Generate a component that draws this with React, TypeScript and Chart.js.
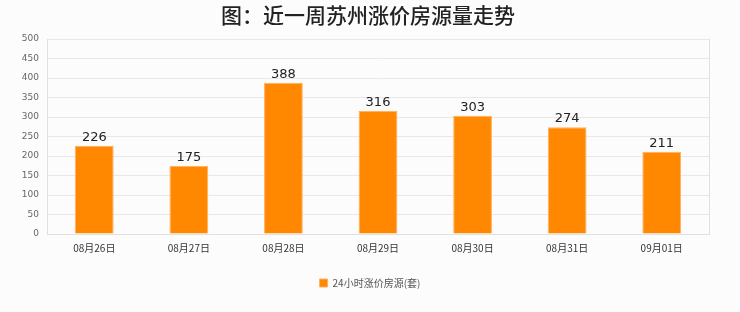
import React, { useEffect, useRef } from "react";
import { Chart, registerables } from "chart.js";

Chart.register(...registerables);

const title = "图：近一周苏州涨价房源量走势";
const categories = ["08月26日", "08月27日", "08月28日", "08月29日", "08月30日", "08月31日", "09月01日"];
const seriesName = "24小时涨价房源(套)";
const values = [226, 175, 388, 316, 303, 274, 211];
const yMin = 0;
const yMax = 500;
const yStep = 50;

const titlePlugin = {
  id: "customTitle",
  afterDraw(chart: any) {
    const ctx = chart.ctx;
    ctx.save();
    ctx.font = "500 21px 'Noto Sans CJK SC'";
    ctx.fillStyle = "#222";
    ctx.textAlign = "center";
    ctx.textBaseline = "middle";
    ctx.fillText(title, 368, 15);
    ctx.restore();
  },
};

const labelPlugin = {
  id: "valueLabels",
  afterDatasetsDraw(chart: any) {
    const ctx = chart.ctx;
    const meta = chart.getDatasetMeta(0);
    ctx.save();
    ctx.font = "13px 'DejaVu Sans'";
    ctx.fillStyle = "#222";
    ctx.textAlign = "center";
    ctx.textBaseline = "bottom";
    meta.data.forEach((bar: any, i: number) => {
      ctx.fillText(String(values[i]), bar.x, bar.y - 2);
    });
    ctx.restore();
  },
};

const bgPlugin = {
  id: "bg",
  beforeDraw(chart: any) {
    const ctx = chart.ctx;
    ctx.save();
    ctx.fillStyle = "#fcfcfc";
    ctx.fillRect(0, 0, chart.width, chart.height);
    const a = chart.chartArea;
    ctx.strokeStyle = "#e0e0e0";
    ctx.lineWidth = 1;
    ctx.strokeRect(Math.round(a.left) + 0.5, Math.round(a.top) + 0.5, Math.round(a.right - a.left), Math.round(a.bottom - a.top));
    ctx.restore();
  },
};

export default function App() {
  const ref = useRef<HTMLCanvasElement>(null);
  useEffect(() => {
    document.body.style.margin = "0";
    const chart = new Chart(ref.current!, {
      type: "bar",
      data: {
        labels: categories,
        datasets: [
          {
            label: seriesName,
            data: values,
            backgroundColor: "#ff8800",
            borderColor: "#ffb060",
            borderWidth: 1,
            barPercentage: 0.41,
            categoryPercentage: 1,
          },
        ],
      },
      options: {
        animation: false,
        responsive: false,
        layout: { padding: { top: 39, right: 0, left: 0, bottom: 14 } },
        plugins: {
          legend: {
            position: "bottom",
            labels: {
              boxWidth: 8,
              boxHeight: 8,
              color: "#555",
              font: { size: 10, family: "'Noto Sans CJK SC'" },
              padding: 8,
            },
          },
          tooltip: { enabled: false },
        },
        scales: {
          x: {
            grid: { display: false, drawTicks: false },
            border: { color: "#e0e0e0" },
            ticks: { color: "#333", padding: 8, font: { size: 10, family: "'Noto Sans CJK SC'" }, maxRotation: 0 },
            afterFit(scale: any) {
              scale.height = 36;
            },
          },
          y: {
            min: yMin,
            max: yMax,
            ticks: { stepSize: yStep, padding: 8, color: "#666", font: { size: 9, family: "'DejaVu Sans'" } },
            grid: { color: "#e8e8e8", drawTicks: false },
            border: { color: "#e0e0e0" },
            afterFit(scale: any) {
              scale.width = 47;
            },
          },
          yRight: {
            position: "right",
            min: yMin,
            max: yMax,
            ticks: { display: false },
            grid: { display: false, drawTicks: false },
            border: { display: false },
            afterFit(scale: any) {
              scale.width = 31;
            },
          },
        },
      },
      plugins: [bgPlugin, titlePlugin, labelPlugin],
    });
    return () => chart.destroy();
  }, []);
  return <canvas ref={ref} width={740} height={312} style={{ display: "block" }} />;
}
